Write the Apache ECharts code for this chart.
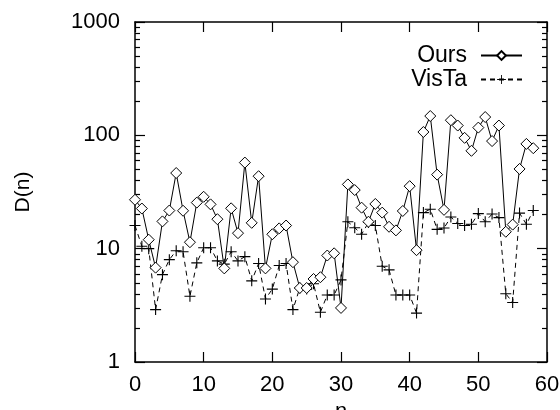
<!DOCTYPE html>
<html>
<head>
<meta charset="utf-8">
<script src="https://cdn.jsdelivr.net/npm/echarts@6/dist/echarts.min.js"></script>
<style>html,body{margin:0;padding:0;background:#fff}#c{width:560px;height:410px}</style>
</head>
<body>
<div id="c"></div>
<script>
// n index
const nValues = [0,1,2,3,4,5,6,7,8,9,10,11,12,13,14,15,16,17,18,19,20,21,22,23,24,25,26,27,28,29,30,31,32,33,34,35,36,37,38,39,40,41,42,43,44,45,46,47,48,49,50,51,52,53,54,55,56,57,58];
// "Ours" D(n)
const oursValues = [27,22.6,12,6.8,17.4,21.7,46.5,21.6,11.4,25.5,28.7,24.6,18.2,6.7,22.7,13.7,57.5,16.9,43.6,6.7,13.4,15.1,16,7.6,4.5,4.5,5.4,5.6,8.7,9.1,3.0,36.9,32.9,23,17.3,24.8,20.8,15.6,14.5,21.5,35.6,9.7,107,148,45,22,136,122,95,73,117,145,89,122,14.1,16.3,50.5,84,77];
// "VisTa" D(n)
const vistaValues = [16,10.5,10,2.9,5.9,8,9.6,9.4,3.8,7.5,10.2,10.2,7.8,7.3,9.4,7.8,8.5,5.2,7.4,3.6,4.4,7.1,7.4,2.9,4.5,4.4,4.9,2.75,3.9,3.9,5.3,17.3,15.3,13.4,17,16,7,6.5,3.9,3.9,3.9,2.7,20.8,22.3,14.8,15.2,19,16.7,16,16.4,20.4,17.3,20.2,18.8,4.0,3.35,20.6,16.4,21.7];
// tick values
const xTicks = [0,10,20,30,40,50,60];
const yTicks = [1,10,100,1000];
const seriesNames = ['Ours','VisTa'];

const yMinorTicks = [];
for (let d = 1; d < 1000; d *= 10) for (let k = 2; k <= 9; k++) yMinorTicks.push(k*d);

const font = 'Liberation Sans, Arial, Helvetica, sans-serif';
const black = '#000';
const tickLbl = {color: black, fontFamily: font, fontSize: 22};

function xAx(pos, labels) {
  return {
    type: 'value', min: xTicks[0], max: xTicks[xTicks.length-1], interval: 10, position: pos,
    axisLine: {show: true, onZero: false, lineStyle: {color: black, width: 1.5}},
    axisTick: {show: true, inside: true, length: 10, lineStyle: {color: black, width: 1.2}},
    axisLabel: labels ? Object.assign({margin: 12}, tickLbl) : {show: false},
    splitLine: {show: false},
    name: labels ? 'n' : '', nameLocation: 'middle', nameGap: 33,
    nameTextStyle: {color: black, fontFamily: font, fontSize: 22}
  };
}
function yAx(pos, major, labels) {
  return {
    type: 'log', logBase: 10, min: yTicks[0], max: yTicks[yTicks.length-1], position: pos,
    axisLine: {show: major, onZero: false, lineStyle: {color: black, width: 1.5}},
    axisTick: major
      ? {show: true, inside: true, length: 10, lineStyle: {color: black, width: 1.2}}
      : {show: true, inside: true, length: 5, customValues: yMinorTicks, lineStyle: {color: black, width: 1.2}},
    axisLabel: labels ? Object.assign({margin: 15, formatter: v => String(v)}, tickLbl) : {show: false},
    splitLine: {show: false},
    name: labels ? 'D(n)' : '', nameLocation: 'middle', nameGap: 101,
    nameTextStyle: {color: black, fontFamily: font, fontSize: 21}
  };
}

const plusPath = 'path://M0,4.5H10V5.5H0Z M4.5,0H5.5V10H4.5Z';

const chart = echarts.init(document.getElementById('c'), null, {renderer: 'canvas'});
chart.setOption({
  animation: false,
  backgroundColor: '#fff',
  grid: {left: 135, right: 13, top: 22, bottom: 48, containLabel: false, outerBoundsMode: 'none'},
  xAxis: [xAx('bottom', true), xAx('top', false)],
  yAxis: [yAx('left', true, true), yAx('left', false, false), yAx('right', true, false), yAx('right', false, false)],
  legend: {
    orient: 'vertical', right: 37, top: 44, align: 'right', itemGap: 1, padding: 0,
    itemWidth: 41, itemHeight: 11,
    textStyle: {color: black, fontFamily: font, fontSize: 23, padding: [0, 9, 0, 0]},
    data: seriesNames
  },
  series: [
    {
      name: seriesNames[0], type: 'line', xAxisIndex: 0, yAxisIndex: 0,
      data: nValues.map((n, i) => [n, oursValues[i]]),
      symbol: 'diamond', symbolSize: 11, showAllSymbol: true,
      lineStyle: {color: black, width: 1, type: 'solid'},
      itemStyle: {color: '#fff', borderColor: black, borderWidth: 1},
      z: 3
    },
    {
      name: seriesNames[1], type: 'line', xAxisIndex: 0, yAxisIndex: 0,
      data: nValues.map((n, i) => [n, vistaValues[i]]),
      symbol: plusPath, symbolSize: 11, symbolKeepAspect: true, showAllSymbol: true,
      lineStyle: {color: black, width: 1, type: [5, 4]},
      itemStyle: {color: black, borderWidth: 0},
      z: 2
    }
  ]
});
</script>
</body>
</html>
